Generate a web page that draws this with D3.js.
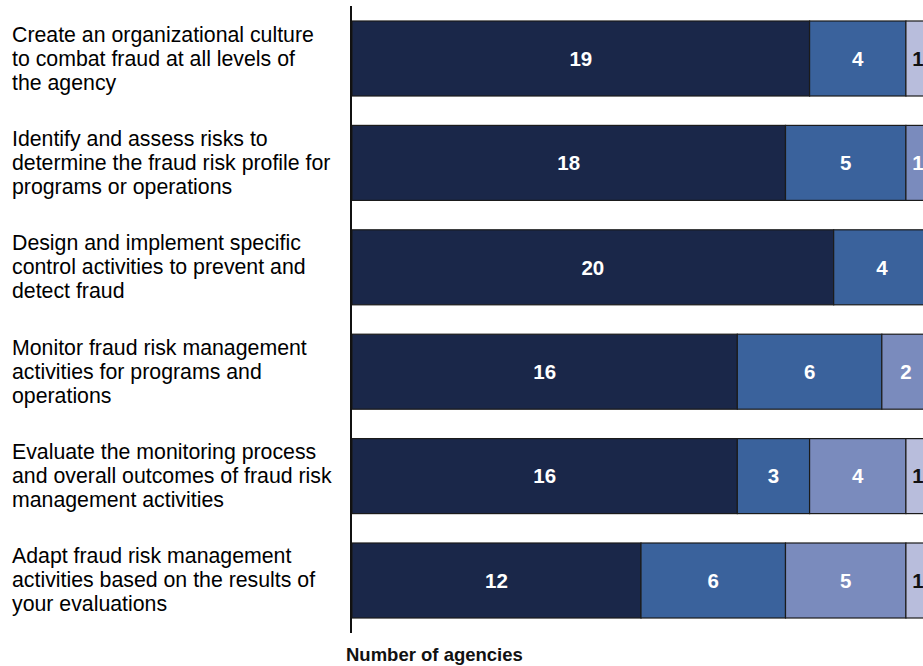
<!DOCTYPE html>
<html>
<head>
<meta charset="utf-8">
<script src="https://cdn.jsdelivr.net/npm/d3@7"></script>
<style>
  html, body { margin: 0; padding: 0; background: #fff; }
  svg { display: block; font-family: "Liberation Sans", Arial, sans-serif; }
</style>
</head>
<body>
<svg id="chart" width="923" height="666"></svg>
<script>
// Fraud risk management activities, number of agencies by response level
const categories = [
  ["Create an organizational culture", "to combat fraud at all levels of", "the agency"],
  ["Identify and assess risks to", "determine the fraud risk profile for", "programs or operations"],
  ["Design and implement specific", "control activities to prevent and", "detect fraud"],
  ["Monitor fraud risk management", "activities for programs and", "operations"],
  ["Evaluate the monitoring process", "and overall outcomes of fraud risk", "management activities"],
  ["Adapt fraud risk management", "activities based on the results of", "your evaluations"]
];
const seriesKeys = ["s1", "s2", "s3", "s4"];
const s1 = [19, 18, 20, 16, 16, 12];
const s2 = [4, 5, 4, 6, 3, 6];
const s3 = [0, 1, 0, 2, 4, 5];
const s4 = [1, 0, 0, 0, 1, 1];
const colors = ["#1a2749", "#3a629c", "#7a8bbd", "#b8bddc"];
const textColors = ["#ffffff", "#ffffff", "#ffffff", "#111111"];
const axisTitle = "Number of agencies";

const rows = categories.map((c, i) => ({ idx: i, s1: s1[i], s2: s2[i], s3: s3[i], s4: s4[i] }));
const stacked = d3.stack().keys(seriesKeys)(rows);

const svg = d3.select("#chart");
const x0 = 352;
const x = d3.scaleLinear().domain([0, 24]).range([x0, x0 + 578]);
const y = d3.scaleBand().domain(d3.range(categories.length)).range([21, 618]).paddingInner(0.2816).paddingOuter(0);

// Stacked segments
const layer = svg.append("g").selectAll("g").data(stacked).join("g")
  .attr("fill", (d, i) => colors[i]);

layer.selectAll("rect").data(d => d.filter(p => p[1] - p[0] > 0)).join("rect")
  .attr("x", p => x(p[0]))
  .attr("y", p => y(p.data.idx))
  .attr("width", p => x(p[1]) - x(p[0]))
  .attr("height", y.bandwidth())
  .attr("stroke", "#1b1b1b")
  .attr("stroke-width", 1.2);

// Value labels
stacked.forEach((s, si) => {
  svg.append("g").selectAll("text").data(s.filter(p => p[1] - p[0] > 0)).join("text")
    .attr("x", p => (x(p[0]) + x(p[1])) / 2)
    .attr("y", p => y(p.data.idx) + y.bandwidth() / 2)
    .attr("dy", "0.36em")
    .attr("text-anchor", "middle")
    .attr("font-size", 20.5)
    .attr("font-weight", "bold")
    .attr("fill", textColors[si])
    .text(p => p[1] - p[0]);
});

// Category labels, three lines centred on each bar
const labels = svg.append("g").selectAll("text").data(categories).join("text")
  .attr("font-size", 21.3)
  .attr("fill", "#000");
labels.selectAll("tspan").data((d, i) => d.map((t, j) => ({ t, i, j }))).join("tspan")
  .attr("x", 12)
  .attr("y", d => y(d.i) + y.bandwidth() / 2 + (d.j - 1) * 24 + 7)
  .text(d => d.t);

// Vertical axis line
svg.append("line")
  .attr("x1", 351).attr("x2", 351)
  .attr("y1", 6).attr("y2", 633)
  .attr("stroke", "#111").attr("stroke-width", 2);

// Axis title
svg.append("text")
  .attr("x", 346).attr("y", 661)
  .attr("font-size", 18.5).attr("font-weight", "bold")
  .attr("fill", "#111")
  .text(axisTitle);
</script>
</body>
</html>
